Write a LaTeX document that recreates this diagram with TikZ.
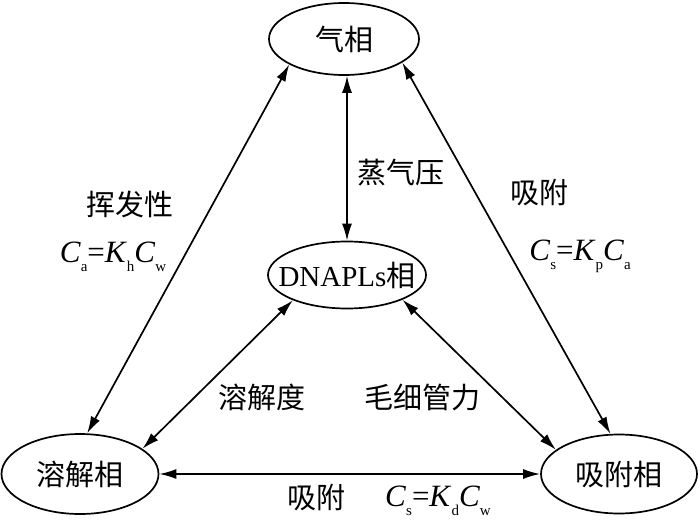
\documentclass[tikz,border=0pt]{standalone}
\usepackage{fontspec}
\setmainfont{Liberation Serif}
\newfontfamily\cjk{Noto Sans CJK SC}
\usetikzlibrary{arrows.meta,shapes.geometric}
\newcommand{\fsub}[1]{\raisebox{-0.3em}{\fontsize{15}{15}\selectfont #1}}
\newcommand{\fml}[6]{\textit{#1}\fsub{#2}=\textit{#3}\fsub{#4}\textit{#5}\fsub{#6}}
\begin{document}
\begin{tikzpicture}[x=1pt,y=-1pt,
  phase/.style={ellipse,draw,line width=1.7pt,inner sep=0pt},
  lab/.style={font=\cjk\fontsize{29}{29}\selectfont,inner sep=0pt},
  link/.style={{Latex[length=17pt,width=10pt]}-{Latex[length=17pt,width=10pt]},line width=1.7pt},
  eq/.style={font=\fontsize{31}{31}\selectfont,inner sep=0pt,anchor=base}]
\useasboundingbox (0,0) rectangle (700,521);
\node[phase,minimum width=150pt,minimum height=72pt,label={[lab]center:气相}] (qi) at (344,39) {};
\node[phase,minimum width=158pt,minimum height=67pt,label={[lab]center:{\rmfamily DNAPLs}相}] (dn) at (347,275) {};
\node[phase,minimum width=157pt,minimum height=80pt,label={[lab]center:溶解相}] (rong) at (80,474) {};
\node[phase,minimum width=156pt,minimum height=79pt,label={[lab]center:吸附相}] (xi) at (619,474) {};

\draw[link] (qi.205) -- (rong.80);
\draw[link] (qi.338) -- (xi.102);
\draw[link] (dn.north) -- (dn.north |- qi.south);
\draw[link] (dn.205) -- (rong.22);
\draw[link] (dn.336) -- (xi.159);
\draw[link] (rong.east) -- (xi.west);

\node[lab] (zqy) at (401,173) {蒸气压};
\node[lab] (hfx) at (130,204) {挥发性};
\node[eq] (e1) at (113,262) {\fml{C}{a}{K}{h}{C}{w}};
\node[lab] (xf1) at (539,193) {吸附};
\node[eq] (e2) at (580,260) {\fml{C}{s}{K}{p}{C}{a}};
\node[lab] (rjd) at (262,397) {溶解度};
\node[lab] (mxg) at (422,397) {毛细管力};
\node[lab] (xf2) at (316,498) {吸附};
\node[eq] (e3) at (438,506) {\fml{C}{s}{K}{d}{C}{w}};
\end{tikzpicture}
\end{document}
